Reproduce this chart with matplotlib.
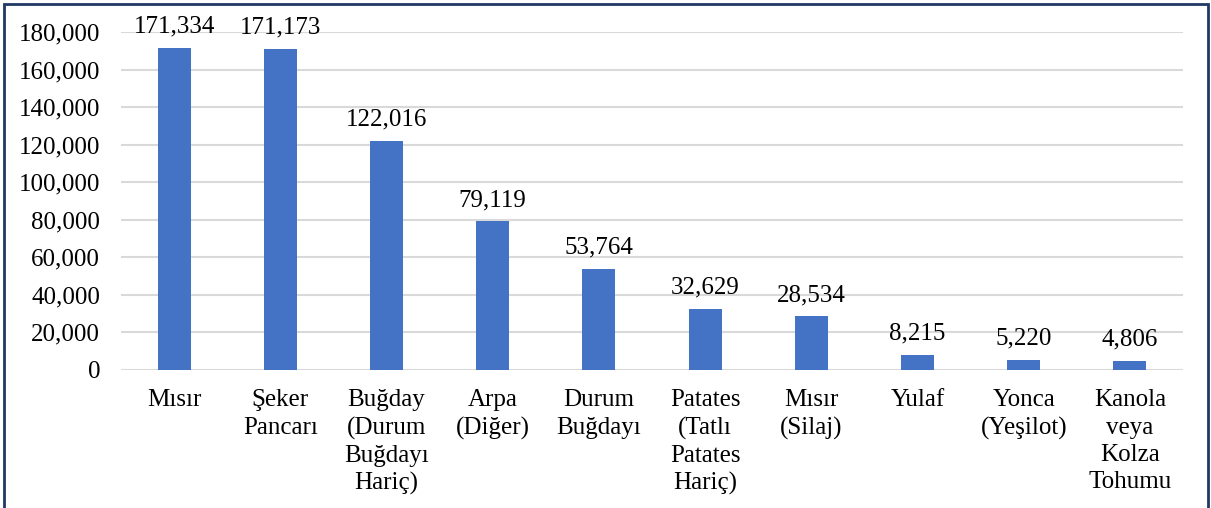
import matplotlib.pyplot as plt
from matplotlib.patches import Rectangle

categories = ["Mısır", "Şeker\nPancarı", "Buğday\n(Durum\nBuğdayı\nHariç)", "Arpa\n(Diğer)",
              "Durum\nBuğdayı", "Patates\n(Tatlı\nPatates\nHariç)", "Mısır\n(Silaj)", "Yulaf",
              "Yonca\n(Yeşilot)", "Kanola\nveya\nKolza\nTohumu"]
values = [171334, 171173, 122016, 79119, 53764, 32629, 28534, 8215, 5220, 4806]
yticks = list(range(0, 180001, 20000))

plt.rcParams['font.family'] = ['Liberation Serif', 'DejaVu Serif']
fs = 18

fig = plt.figure(figsize=(12.11, 5.08), dpi=100)
ax = fig.add_axes([121 / 1211, 1 - 370 / 508, (1183 - 121) / 1211, (370 - 32) / 508])

x = range(len(categories))
ax.bar(x, values, width=0.31, color='#4472C4', zorder=3)
for xi, v in zip(x, values):
    ax.text(xi, v + 5500, f"{v:,}", ha='center', va='bottom', fontsize=fs)

ax.set_xlim(-0.5, len(categories) - 0.5)
ax.set_ylim(0, 180000)
ax.set_yticks(yticks)
ax.set_yticklabels([f"{t:,}" for t in yticks], fontsize=fs)
ax.set_xticks(list(x))
ax.set_xticklabels(categories, fontsize=fs, linespacing=1.3)
ax.tick_params(axis='both', length=0)
ax.tick_params(axis='x', pad=14)
ax.tick_params(axis='y', pad=15)
ax.grid(axis='y', color='#d9d9d9', linewidth=1.5, zorder=0)
for s in ax.spines.values():
    s.set_visible(False)

fig.patches.append(Rectangle((4 / 1211, -0.1), 1204 / 1211, 1 - 4 / 508 + 0.1,
                             transform=fig.transFigure, fill=False,
                             edgecolor='#1F3864', linewidth=2))

fig.savefig("out.png", dpi=100)
